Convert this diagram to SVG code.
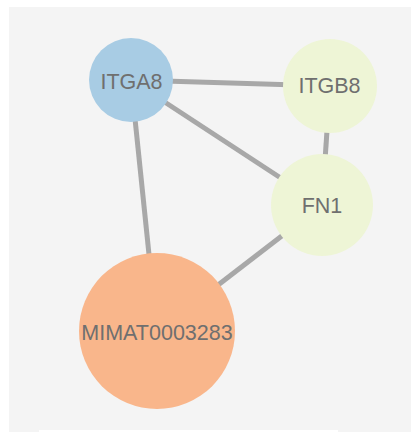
<svg xmlns="http://www.w3.org/2000/svg" width="411" height="432" viewBox="0 0 411 432">
<style>
.edge{stroke:#a8a8a8;stroke-width:5;stroke-linecap:butt;fill:none}
.lbl{font-family:"Liberation Sans",Arial,sans-serif;font-size:21.5px;fill:#6f6f6f;text-anchor:middle}
</style>
<rect x="0" y="0" width="411" height="432" fill="#ffffff"/>
<rect x="9" y="7" width="402" height="425" fill="#f4f4f4"/>
<rect x="39" y="430" width="299" height="2" fill="#ffffff"/>
<g id="connectors">
<line class="edge" x1="131" y1="80" x2="330" y2="86"/>
<line class="edge" x1="131" y1="80" x2="322" y2="205"/>
<line class="edge" x1="131" y1="80" x2="157" y2="332"/>
<line class="edge" x1="330" y1="86" x2="322" y2="205"/>
<line class="edge" x1="322" y1="205" x2="157" y2="332"/>
</g>
<g id="ITGA8">
<circle cx="131" cy="80" r="42" fill="#a8cce4"/>
<text class="lbl" x="131.5" y="89">ITGA8</text>
</g>
<g id="ITGB8">
<circle cx="330" cy="86" r="47" fill="#eef5d6"/>
<text class="lbl" x="329.5" y="93">ITGB8</text>
</g>
<g id="FN1">
<circle cx="322" cy="205" r="51" fill="#eef5d6"/>
<text class="lbl" x="322" y="213">FN1</text>
</g>
<g id="MIMAT0003283">
<circle cx="157" cy="331" r="78" fill="#f9b68b"/>
<text class="lbl" x="157" y="340">MIMAT0003283</text>
</g>
</svg>
